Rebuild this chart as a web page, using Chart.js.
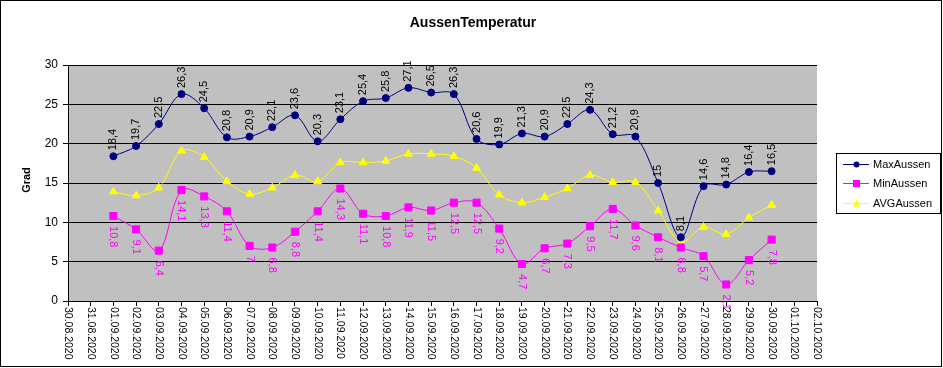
<!DOCTYPE html>
<html>
<head>
<meta charset="utf-8">
<script src="https://cdn.jsdelivr.net/npm/chart.js@4/dist/chart.umd.min.js"></script>
<style>
  html, body { margin: 0; padding: 0; background: #fff; }
  #wrap { width: 943px; height: 368px; position: relative; }
</style>
</head>
<body>
<div id="wrap"><canvas id="tempChart" width="943" height="368"></canvas></div>
<script>
// x axis categories (days)
const days = ['30.08.2020', '31.08.2020',
    '01.09.2020', '02.09.2020', '03.09.2020', '04.09.2020', '05.09.2020',
    '06.09.2020', '07.09.2020', '08.09.2020', '09.09.2020', '10.09.2020',
    '11.09.2020', '12.09.2020', '13.09.2020', '14.09.2020', '15.09.2020',
    '16.09.2020', '17.09.2020', '18.09.2020', '19.09.2020', '20.09.2020',
    '21.09.2020', '22.09.2020', '23.09.2020', '24.09.2020', '25.09.2020',
    '26.09.2020', '27.09.2020', '28.09.2020', '29.09.2020', '30.09.2020',
    '01.10.2020', '02.10.2020'];

// measured values, 01.09 - 30.09 (first two and last two days have no data)
const maxAussen = [null, null,
    18.4, 19.7, 22.5, 26.3, 24.5, 20.8, 20.9, 22.1, 23.6, 20.3,
    23.1, 25.4, 25.8, 27.1, 26.5, 26.3, 20.6, 19.9, 21.3, 20.9,
    22.5, 24.3, 21.2, 20.9, 15, 8.1, 14.6, 14.8, 16.4, 16.5,
    null, null];
const minAussen = [null, null,
    10.8, 9.1, 6.4, 14.1, 13.3, 11.4, 7, 6.8, 8.8, 11.4,
    14.3, 11.1, 10.8, 11.9, 11.5, 12.5, 12.5, 9.2, 4.7, 6.7,
    7.3, 9.5, 11.7, 9.6, 8.1, 6.8, 5.7, 2.1, 5.2, 7.8,
    null, null];
const avgAussen = [null, null,
    13.9, 13.4, 14.4, 19.1, 18.3, 15.2, 13.6, 14.4, 16.0, 15.2,
    17.6, 17.6, 17.8, 18.7, 18.7, 18.4, 16.9, 13.5, 12.5, 13.2,
    14.3, 16.0, 15.1, 15.1, 11.5, 7.5, 9.4, 8.5, 10.6, 12.2,
    null, null];

const yTicks = [0, 5, 10, 15, 20, 25, 30];
const seriesNames = ['MaxAussen', 'MinAussen', 'AVGAussen'];

const FONT = "'Liberation Sans', Arial, sans-serif";
const fmt = v => String(v).replace('.', ',');

function marker(ctx, style, x, y, color) {
    ctx.fillStyle = color;
    ctx.beginPath();
    if (style === 'circle') {
        ctx.arc(x, y, 3, 0, Math.PI * 2);
    } else if (style === 'rect') {
        ctx.rect(x - 3.5, y - 3.5, 7, 7);
    } else {
        ctx.moveTo(x, y - 4);
        ctx.lineTo(x + 4, y + 3);
        ctx.lineTo(x - 4, y + 3);
        ctx.closePath();
    }
    ctx.fill();
}

const decor = {
    id: 'decor',
    beforeDraw(chart) {
        const { ctx, chartArea: a } = chart;
        ctx.save();
        ctx.fillStyle = '#c0c0c0';
        ctx.fillRect(a.left, a.top, a.right - a.left, a.bottom - a.top);
        ctx.restore();
    },
    afterDatasetsDraw(chart) {
        const ctx = chart.ctx;
        ctx.save();
        ctx.font = '11px ' + FONT;
        ctx.textBaseline = 'middle';
        ctx.textAlign = 'left';
        // max labels above, reading upwards
        chart.getDatasetMeta(0).data.forEach((pt, i) => {
            const v = maxAussen[i];
            if (v === null) return;
            ctx.save();
            ctx.translate(pt.x, pt.y - 6);
            ctx.rotate(-Math.PI / 2);
            ctx.fillStyle = '#000';
            ctx.fillText(fmt(v), 0, 0);
            ctx.restore();
        });
        // min labels below, reading downwards
        chart.getDatasetMeta(1).data.forEach((pt, i) => {
            const v = minAussen[i];
            if (v === null) return;
            ctx.save();
            ctx.translate(pt.x, pt.y + 10);
            ctx.rotate(Math.PI / 2);
            ctx.fillStyle = '#ff00ff';
            ctx.fillText(fmt(v), 0, 0);
            ctx.restore();
        });
        ctx.restore();
    },
    afterDraw(chart) {
        const ctx = chart.ctx;
        const xs = chart.scales.x;
        ctx.save();
        // x tick labels, rotated clockwise
        ctx.font = '10.5px ' + FONT;
        ctx.fillStyle = '#000';
        ctx.textAlign = 'left';
        ctx.textBaseline = 'middle';
        days.forEach((d, i) => {
            ctx.save();
            ctx.translate(xs.getPixelForTick(i), xs.top + 6);
            ctx.rotate(Math.PI / 2);
            ctx.fillText(d, 0, 0);
            ctx.restore();
        });

        // title
        ctx.font = 'bold 14px ' + FONT;
        ctx.textAlign = 'center';
        ctx.fillText('AussenTemperatur', 473, 23);

        // y axis title
        ctx.save();
        ctx.translate(27, 180);
        ctx.rotate(-Math.PI / 2);
        ctx.font = 'bold 11px ' + FONT;
        ctx.fillText('Grad', 0, 0);
        ctx.restore();

        // legend
        const colors = ['#000080', '#ff00ff', '#ffff00'];
        const styles = ['circle', 'rect', 'triangle'];
        const rows = [164, 183, 203];
        ctx.strokeStyle = '#000';
        ctx.lineWidth = 1;
        ctx.strokeRect(836.5, 153.5, 104, 60);
        ctx.font = '11px ' + FONT;
        ctx.textAlign = 'left';
        seriesNames.forEach((n, i) => {
            const y = rows[i];
            ctx.strokeStyle = colors[i];
            ctx.beginPath();
            ctx.moveTo(843, y + 0.5);
            ctx.lineTo(869, y + 0.5);
            ctx.stroke();
            marker(ctx, styles[i], 856.5, y + 0.5, colors[i]);
            ctx.fillStyle = '#000';
            ctx.fillText(n, 873, y + 1);
        });

        // outer frame
        ctx.strokeStyle = '#000';
        ctx.strokeRect(0.5, 0.5, 941, 366);
        ctx.restore();
    }
};

new Chart(document.getElementById('tempChart'), {
    type: 'line',
    data: {
        labels: days,
        datasets: [
            { label: seriesNames[0], data: maxAussen, borderColor: '#000080', backgroundColor: '#000080',
              borderWidth: 1, pointStyle: 'circle', pointRadius: 3.5, tension: 0.35 },
            { label: seriesNames[1], data: minAussen, borderColor: '#ff00ff', backgroundColor: '#ff00ff',
              borderWidth: 1, pointStyle: 'rect', pointRadius: 5, tension: 0.35 },
            { label: seriesNames[2], data: avgAussen, borderColor: '#ffff00', backgroundColor: '#ffff00',
              borderWidth: 1, pointStyle: 'triangle', pointRadius: 4.5, tension: 0.35 }
        ]
    },
    options: {
        responsive: false,
        animation: false,
        events: [],
        layout: { padding: { left: 8, right: 126, top: 65, bottom: 7 } },
        plugins: { legend: { display: false }, title: { display: false }, tooltip: { enabled: false } },
        scales: {
            x: {
                offset: false,
                grid: { drawOnChartArea: false, drawTicks: true, tickLength: 5, color: '#000' },
                border: { display: true, color: '#000' },
                ticks: { display: false, autoSkip: false },
                afterFit(scale) { scale.height = 60; }
            },
            y: {
                min: 0,
                max: 30,
                afterBuildTicks(scale) { scale.ticks = yTicks.map(v => ({ value: v })); },
                grid: { color: '#000', drawTicks: true, tickLength: 5 },
                border: { display: true, color: '#000' },
                ticks: { color: '#000', padding: 5, font: { family: FONT, size: 12 } },
                afterFit(scale) { scale.width = 60; }
            }
        }
    },
    plugins: [decor]
});
</script>
</body>
</html>
